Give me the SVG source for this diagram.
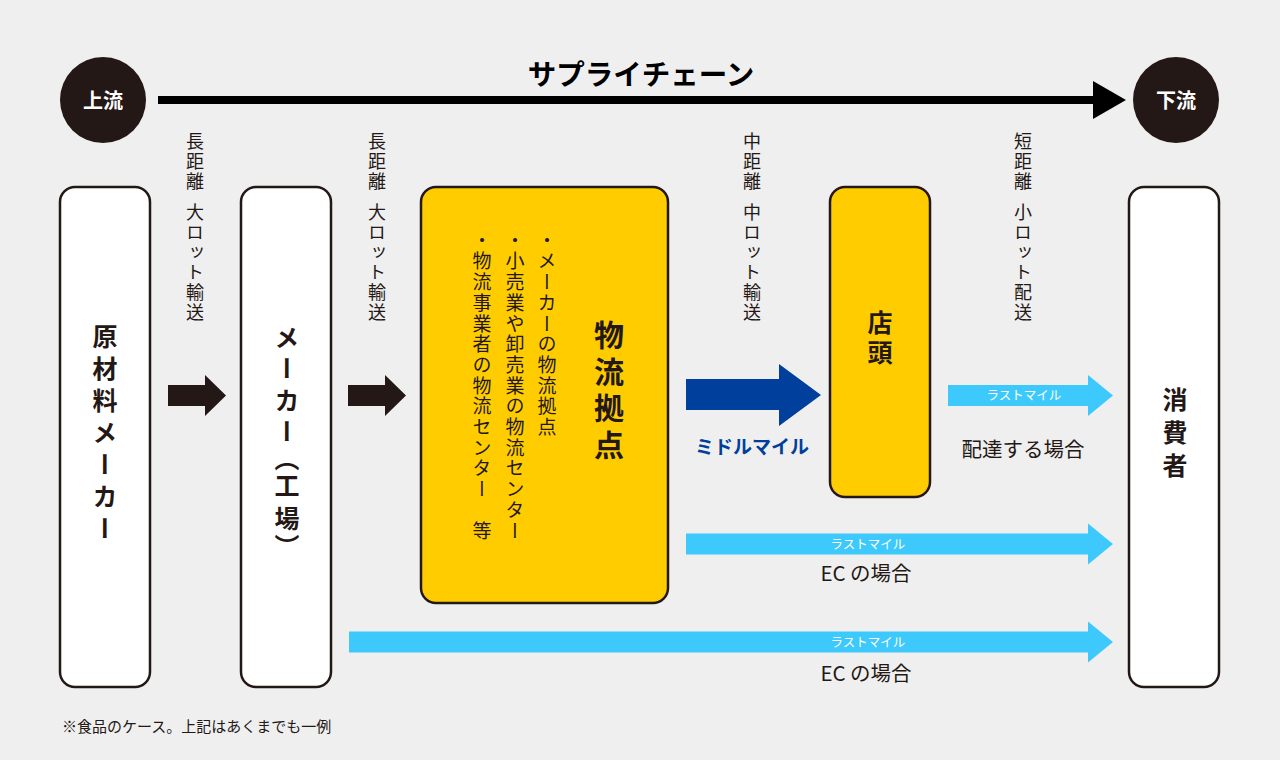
<svg xmlns="http://www.w3.org/2000/svg" width="1280" height="760" viewBox="0 0 1280 760">
<style>
.jp{font-family:"Noto Sans CJK JP","Noto Sans",sans-serif;fill:#231815}
.v{writing-mode:vertical-rl}
.box{fill:#ffffff;stroke:#231815;stroke-width:2.5}
.ybox{fill:#ffcc00;stroke:#231815;stroke-width:2.5}
.side{font-size:18px;letter-spacing:2px}
.big{font-weight:bold;font-size:25px}
.lst{font-size:19px;letter-spacing:1.7px}
.lm{font-size:12.5px;fill:#ffffff}
.lb{fill:#3ec9fc}
.dk{fill:#231815}
.cap{font-size:20.5px}
</style>
<rect width="1280" height="760" fill="#efefef"/>

<g id="supply-chain">
<rect x="158" y="96" width="937" height="8" fill="#000"/>
<polygon points="1093,81 1126,100 1093,119" fill="#000"/>
<text class="jp" x="641" y="84.5" text-anchor="middle" font-size="28.5" font-weight="bold" style="fill:#000">サプライチェーン</text>
</g>
<g id="upstream">
<circle cx="103" cy="100" r="43" fill="#231815"/>
<text class="jp" x="103" y="107.5" text-anchor="middle" font-size="20" font-weight="bold" style="fill:#fff">上流</text>
</g>
<g id="downstream">
<circle cx="1176" cy="100" r="43" fill="#231815"/>
<text class="jp" x="1176" y="107.5" text-anchor="middle" font-size="20" font-weight="bold" style="fill:#fff">下流</text>
</g>

<g id="raw-material-maker">
<rect class="box" x="60" y="187" width="90" height="500" rx="15"/>
<text class="jp v big" x="105" y="436" text-anchor="middle" letter-spacing="7">原材料メーカー</text>
</g>
<g id="maker-factory">
<rect class="box" x="241" y="187" width="90" height="500" rx="15"/>
<text class="jp v big" x="287" y="337" text-anchor="middle">メ</text>
<text class="jp v big" x="287" y="368" text-anchor="middle">ー</text>
<text class="jp v big" x="287" y="400" text-anchor="middle">カ</text>
<text class="jp v big" x="287" y="431" text-anchor="middle">ー</text>
<text class="jp v big" x="287" y="458" text-anchor="middle">（</text>
<text class="jp v big" x="287" y="485" text-anchor="middle">工</text>
<text class="jp v big" x="287" y="518" text-anchor="middle">場</text>
<text class="jp v big" x="287" y="546" text-anchor="middle">）</text>
</g>
<g id="logistics-hub">
<rect class="ybox" x="421" y="187" width="247" height="416" rx="15"/>
<text class="jp v" x="609" y="393" text-anchor="middle" font-size="30" font-weight="bold" letter-spacing="6.5">物流拠点</text>
<text class="jp v lst" x="547" y="231">・メーカーの物流拠点</text>
<text class="jp v lst" x="515" y="231">・小売業や卸売業の物流センター</text>
<text class="jp v lst" x="482" y="231">・物流事業者の物流センター　等</text>
</g>
<g id="store">
<rect class="ybox" x="830" y="187" width="100" height="310" rx="15"/>
<text class="jp v big" x="880" y="340" text-anchor="middle" font-size="26" letter-spacing="5">店頭</text>
</g>
<g id="consumer">
<rect class="box" x="1129" y="187" width="90" height="500" rx="15"/>
<text class="jp v big" x="1175" y="436" text-anchor="middle" letter-spacing="8">消費者</text>
</g>

<g id="connectors">
<polygon class="dk" points="168,385 205,385 205,375 226,395.5 205,416 205,406 168,406"/>
<polygon class="dk" points="348,385 385,385 385,375 406,395.5 385,416 385,406 348,406"/>
<polygon fill="#003f9c" points="686,379 779,379 779,364 821,395 779,426 779,410 686,410"/>
<polygon class="lb" points="948,385 1088,385 1088,375 1113,395.5 1088,416 1088,406 948,406"/>
<polygon class="lb" points="686,533.5 1088,533.5 1088,523.5 1113,544 1088,564.5 1088,554.5 686,554.5"/>
<polygon class="lb" points="349,631.5 1088,631.5 1088,621.5 1113,642 1088,662.5 1088,652.5 349,652.5"/>

<text class="jp v side" x="195" y="132">長距離</text>
<text class="jp v side" x="195" y="203">大ロット輸送</text>
<text class="jp v side" x="377" y="132">長距離</text>
<text class="jp v side" x="377" y="203">大ロット輸送</text>
<text class="jp v side" x="752" y="132">中距離</text>
<text class="jp v side" x="752" y="203">中ロット輸送</text>
<text class="jp v side" x="1023" y="132">短距離</text>
<text class="jp v side" x="1023" y="203">小ロット配送</text>

<text class="jp" x="752" y="454" text-anchor="middle" font-size="19" font-weight="bold" style="fill:#003f9c">ミドルマイル</text>
<text class="jp lm" x="1024" y="400" text-anchor="middle">ラストマイル</text>
<text class="jp cap" x="1023" y="457" text-anchor="middle">配達する場合</text>
<text class="jp lm" x="868" y="548.5" text-anchor="middle">ラストマイル</text>
<text class="jp cap" x="866" y="581" text-anchor="middle">EC の場合</text>
<text class="jp lm" x="868" y="646.5" text-anchor="middle">ラストマイル</text>
<text class="jp cap" x="866" y="681" text-anchor="middle">EC の場合</text>
</g>

<text class="jp" x="62" y="732" font-size="15">※食品のケース。上記はあくまでも一例</text>
</svg>
